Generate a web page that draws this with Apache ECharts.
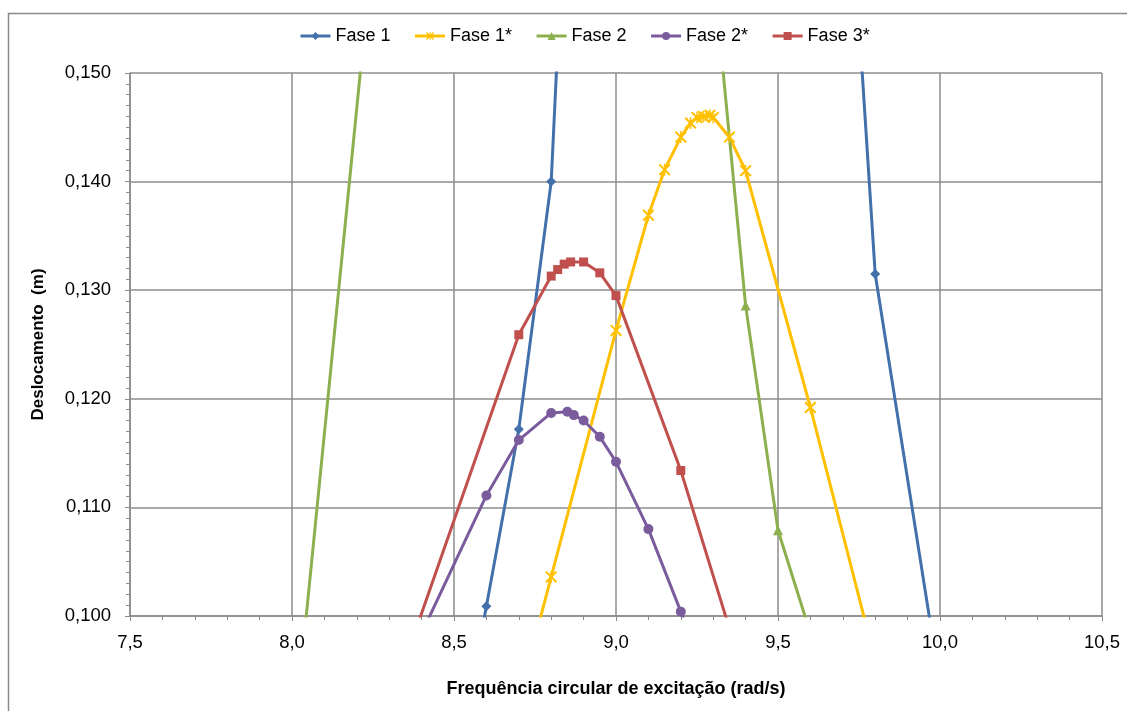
<!DOCTYPE html>
<html>
<head>
<meta charset="utf-8">
<style>
  html, body { margin: 0; padding: 0; background: #fff; }
  #chart { width: 1127px; height: 711px; }
</style>
<script src="https://cdn.jsdelivr.net/npm/echarts@6/dist/echarts.min.js"></script>
</head>
<body>
<div id="chart"></div>
<script>
// Frequency (rad/s) and displacement (m) for each phase
const fase1X = [8.5, 8.6, 8.7, 8.8, 8.9, 9.7, 9.8, 10.0];
const fase1Y = [0.0850, 0.1009, 0.1172, 0.1400, 0.2025, 0.1777, 0.1315, 0.0937];

const fase1sX = [8.6, 8.8, 9.0, 9.1, 9.15, 9.2, 9.23, 9.25, 9.27, 9.29, 9.3, 9.35, 9.4, 9.6, 9.8];
const fase1sY = [0.0810, 0.1036, 0.1263, 0.1369, 0.1411, 0.1441, 0.1454, 0.1459, 0.1460, 0.1461, 0.1459, 0.1441, 0.1410, 0.1192, 0.0959];

const fase2X = [8.0, 8.3, 9.3, 9.4, 9.5, 9.6];
const fase2Y = [0.0868, 0.1768, 0.1596, 0.1286, 0.1079, 0.0984];

const fase2sX = [8.4, 8.6, 8.7, 8.8, 8.85, 8.87, 8.9, 8.95, 9.0, 9.1, 9.2, 9.3];
const fase2sY = [0.0984, 0.1111, 0.1162, 0.1187, 0.1188, 0.1185, 0.1180, 0.1165, 0.1142, 0.1080, 0.1004, 0.0920];

const fase3sX = [8.3, 8.7, 8.8, 8.82, 8.84, 8.86, 8.9, 8.95, 9.0, 9.2, 9.4];
const fase3sY = [0.0917, 0.1259, 0.1313, 0.1319, 0.1324, 0.1326, 0.1326, 0.1316, 0.1295, 0.1134, 0.0940];

const seriesNames = ['Fase 1', 'Fase 1*', 'Fase 2', 'Fase 2*', 'Fase 3*'];

const xTitle = 'Frequência circular de excitação (rad/s)';
const yTitle = 'Deslocamento  (m)';

const pairs = (xs, ys) => xs.map((x, i) => [x, ys[i]]);

// asterisk marker built from three thin filled bars
const asterisk = 'path://M0,1.2L1.2,0L10,8.8L8.8,10Z M8.8,0L10,1.2L1.2,10L0,8.8Z M4.4,0H5.6V10H4.4Z';

const FONT = 'Liberation Sans, Arial, sans-serif';
const GRID = '#8c8c8c';

function lineSeries(name, data, color, symbol, size) {
  return {
    name, type: 'line', data, symbol, symbolSize: size,
    showAllSymbol: true, clip: true,
    lineStyle: { color, width: 3 },
    itemStyle: { color, borderWidth: 0 },
    emphasis: { disabled: true },
    animation: false
  };
}

const chart = echarts.init(document.getElementById('chart'), null, { renderer: 'canvas' });
chart.setOption({
  backgroundColor: '#fff',
  animation: false,
  textStyle: { fontFamily: FONT },
  graphic: [{
    type: 'rect', left: 6, top: 11, silent: true,
    shape: { width: 1200, height: 800 },
    style: { fill: 'none', stroke: '#8a8a8a', lineWidth: 1.5 }
  }],
  legend: {
    data: seriesNames,
    top: 22, left: 294,
    itemWidth: 30, itemHeight: 10, itemGap: 23,
    lineStyle: { width: 3 },
    textStyle: { fontSize: 18, color: '#000', fontFamily: FONT }
  },
  grid: { left: 130, right: 25, top: 73, bottom: 95 },
  xAxis: {
    type: 'value', min: 7.5, max: 10.5, interval: 0.5,
    name: xTitle, nameLocation: 'middle', nameGap: 64,
    nameTextStyle: { fontSize: 18, fontWeight: 'bold', color: '#000', fontFamily: FONT },
    axisLine: { show: true, onZero: false, lineStyle: { color: GRID, width: 1.5 } },
    axisTick: { show: true, length: 5, lineStyle: { color: GRID } },
    minorTick: { show: true, splitNumber: 5, length: 4, lineStyle: { color: GRID } },
    axisLabel: { fontSize: 18.5, color: '#000', margin: 17, formatter: v => v.toFixed(1).replace('.', ',') },
    splitLine: { show: true, lineStyle: { color: GRID, width: 1.5 } }
  },
  yAxis: {
    type: 'value', min: 0.1, max: 0.15, interval: 0.01,
    name: yTitle, nameLocation: 'middle', nameGap: 83,
    nameTextStyle: { fontSize: 17, fontWeight: 'bold', color: '#000', fontFamily: FONT },
    axisLine: { show: true, lineStyle: { color: GRID, width: 1.5 } },
    axisTick: { show: true, length: 5, lineStyle: { color: GRID } },
    minorTick: { show: true, splitNumber: 10, length: 4, lineStyle: { color: GRID } },
    axisLabel: { fontSize: 18.5, color: '#000', margin: 19, formatter: v => v.toFixed(3).replace('.', ',') },
    splitLine: { show: true, lineStyle: { color: GRID, width: 1.5 } }
  },
  series: [
    lineSeries('Fase 1', pairs(fase1X, fase1Y), '#4270AB', 'diamond', 10),
    lineSeries('Fase 1*', pairs(fase1sX, fase1sY), '#FFC000', asterisk, 12),
    lineSeries('Fase 2', pairs(fase2X, fase2Y), '#8DB04F', 'triangle', 10),
    lineSeries('Fase 2*', pairs(fase2sX, fase2sY), '#7A5C9D', 'circle', 10),
    lineSeries('Fase 3*', pairs(fase3sX, fase3sY), '#C0504D', 'rect', 9)
  ]
});
</script>
</body>
</html>
